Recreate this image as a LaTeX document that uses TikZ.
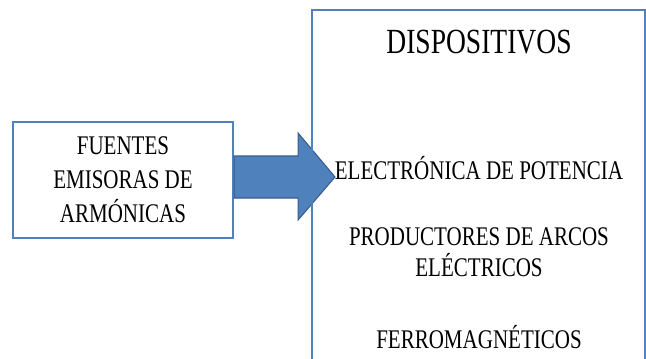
\documentclass[tikz,border=0pt]{standalone}
\usepackage{fontspec}
\setmainfont{Liberation Serif}[FakeStretch=0.78]
\usetikzlibrary{calc}
\definecolor{azul}{HTML}{4F81BD}
\definecolor{azuloscuro}{HTML}{385D8A}
\tikzset{
  caja/.style={draw=azul, line width=1.6pt, fill=white, minimum width=165pt, minimum height=87pt, align=center, inner sep=0pt},
  texto/.style={align=center, inner sep=0pt, font=\fontsize{20.2}{23.5}\selectfont},
}
\begin{document}
\begin{tikzpicture}[x=0.75pt, y=-0.75pt]
	\useasboundingbox (0,0) rectangle (646,358);
	% caja de la izquierda
	\node[caja, font=\fontsize{20.2}{25.5}\selectfont] (fuentes) at (123,180)
	{FUENTES\\EMISORAS DE\\ARMÓNICAS};
	% flecha gruesa
	\coordinate (punta) at (335,177);
	\draw[azuloscuro, line width=0.8pt, fill=azul, line join=miter]
	($(fuentes.east)+(0,-24)$) -- ++(64,0) -- ++(0,-23) -- (punta)
	-- ($(fuentes.east)+(64,40)$) -- ++(0,-22) -- ($(fuentes.east)+(0,18)$) -- cycle;
	% caja de la derecha, abierta por abajo
	\draw[azul, line width=1.6pt] (312,360) -- (312,10) -- (645,10) -- (645,360);
	\node[texto, font=\fontsize{26.5}{30}\selectfont] (titulo) at (479,42) {DISPOSITIVOS};
	\node[texto] (electronica) at (479,168) {ELECTRÓNICA DE POTENCIA};
	\node[texto] (productores) at (479,252) {PRODUCTORES DE ARCOS\\ELÉCTRICOS};
	\node[texto] (ferro) at (479,337) {FERROMAGNÉTICOS};
\end{tikzpicture}
\end{document}
